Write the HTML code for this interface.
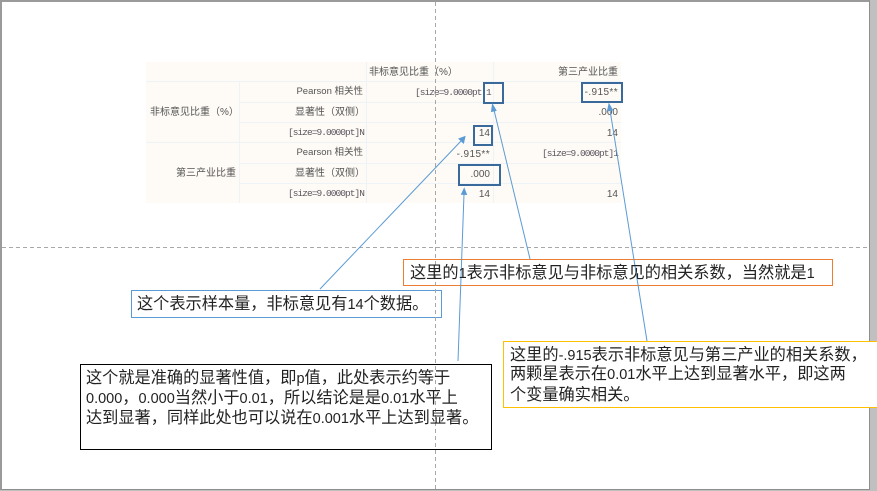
<!DOCTYPE html>
<html lang="zh"><head><meta charset="utf-8"><style>
html,body{margin:0;padding:0;background:#c0c0c0}
#p{position:relative;width:877px;height:491px;overflow:hidden;background:#c0c0c0}
#s{position:absolute;left:0;top:0;width:870px;height:490px;background:#fff;border-style:solid;border-color:#9a9a9a #8e8e8e #8e8e8e #9a9a9a;border-width:2px 1px 1px 2px;box-sizing:border-box}
.a{position:absolute;white-space:nowrap}
.t{font:10px/12px "Liberation Sans","Noto Sans CJK SC",sans-serif;color:#555;text-align:right}
.q{font:9.5px/12px "Liberation Sans","Noto Sans CJK SC",sans-serif;color:#555;text-align:right}
.m{font:9.5px/12px "Liberation Mono",monospace;letter-spacing:-.95px;color:#5c5560;text-align:right}
.b{position:absolute;box-sizing:border-box;background:#fff}
.l{position:absolute;white-space:nowrap;font:16.2px/20px "Liberation Sans","Noto Sans CJK SC",sans-serif;color:#222}
.l span{font-size:14.5px}
.h{position:absolute;box-sizing:border-box;border:2px solid #3a6a9c}
svg{position:absolute;left:0;top:0}
</style></head><body><div id="p"><div id="s"></div>
<svg width="877" height="491" style="z-index:1">
<rect x="146" y="62" width="475" height="141" fill="#fefbf6"/>
<g stroke="#eef3f8" stroke-width="1" fill="none">
<path d="M146 81.500H621M239 102.500H621M239 122.500H621M146 142.500H621M239 163.500H621M239 183.500H621M239.500 81V203M366.500 62V203M493.500 62V203"/>
</g></svg>
<div class="a t" style="z-index:2;left:369px;top:67px">非标意见比重（%）</div>
<div class="a t" style="z-index:2;right:259px;top:67px">第三产业比重</div>
<div class="a t" style="z-index:2;left:150px;top:107px">非标意见比重（%）</div>
<div class="a t" style="z-index:2;right:641px;top:168px">第三产业比重</div>
<div class="a q" style="z-index:2;right:514px;top:86px">Pearson 相关性</div>
<div class="a t" style="z-index:2;right:512px;top:107px">显著性（双侧）</div>
<div class="a m" style="z-index:2;right:513px;top:127px">[size=9.0000pt]N</div>
<div class="a q" style="z-index:2;right:514px;top:147px">Pearson 相关性</div>
<div class="a t" style="z-index:2;right:512px;top:168px">显著性（双侧）</div>
<div class="a m" style="z-index:2;right:513px;top:188px">[size=9.0000pt]N</div>
<div class="a m" style="z-index:2;left:415px;top:87px">[size=9.0000pt</div>
<div class="a m" style="z-index:2;left:486px;top:87px">1</div>
<div class="a t" style="z-index:2;right:259px;top:87px;letter-spacing:.4px">-.915**</div>
<div class="a t" style="z-index:2;right:259px;top:107px">.000</div>
<div class="a t" style="z-index:2;right:387px;top:128px">14</div>
<div class="a t" style="z-index:2;right:259px;top:128px">14</div>
<div class="a t" style="z-index:2;right:387px;top:149px;letter-spacing:.4px">-.915**</div>
<div class="a m" style="z-index:2;right:259px;top:148px">[size=9.0000pt]1</div>
<div class="a t" style="z-index:2;right:387px;top:169px">.000</div>
<div class="a t" style="z-index:2;right:387px;top:189px">14</div>
<div class="a t" style="z-index:2;right:259px;top:189px">14</div>
<div class="h" style="z-index:3;left:483px;top:82px;width:21px;height:22px"></div>
<div class="h" style="z-index:3;left:581px;top:82px;width:42px;height:21px"></div>
<div class="h" style="z-index:3;left:473px;top:125px;width:20px;height:21px"></div>
<div class="h" style="z-index:3;left:458px;top:164px;width:43px;height:22px"></div>
<div class="b" style="z-index:3;left:131px;top:290px;width:311px;height:28px;border:1px solid #5b9bd5"></div>
<div class="b" style="z-index:3;left:403px;top:259px;width:430px;height:27px;border:1px solid #ed7d31"></div>
<div class="b" style="z-index:3;left:503px;top:341px;width:374px;height:67px;border:1px solid #ffc000;border-right:0"></div>
<div class="b" style="z-index:3;left:80px;top:364px;width:412px;height:86px;border:1px solid #000"></div>
<svg width="877" height="491" style="z-index:4">
<g stroke="#a8a8a8" stroke-width="1" stroke-dasharray="4 3" fill="none"><path d="M435.500 2V489M2 247.500H869"/></g>
<g stroke="#5b9bd5" stroke-width="1" fill="#5b9bd5">
<path d="M320 289L461 141" fill="none"/><path d="M465 136.500L463.500 143L459 138.800Z"/>
<path d="M530 259L494 110" fill="none"/><path d="M492.500 104.500L496 110.500L491.500 111.500Z"/>
<path d="M458 361L464 194" fill="none"/><path d="M464.200 188.500L466.500 194.500L461.500 194.300Z"/>
<path d="M647 341L610 110" fill="none"/><path d="M609 104L612.500 110L607.500 110.800Z"/>
</g></svg>
<div class="l" style="z-index:5;left:137px;top:294px">这个表示样本量，非标意见有<span>14</span>个数据。</div>
<div class="l" style="z-index:5;left:410px;top:263px">这里的<span>1</span>表示非标意见与非标意见的相关系数，当然就是<span>1</span></div>
<div class="l" style="z-index:5;left:510px;top:345px">这里的<span>-.915</span>表示非标意见与第三产业的相关系数，</div>
<div class="l" style="z-index:5;left:510px;top:364px">两颗星表示在<span>0.01</span>水平上达到显著水平，即这两</div>
<div class="l" style="z-index:5;left:510px;top:385px">个变量确实相关。</div>
<div class="l" style="z-index:5;left:86px;top:368px">这个就是准确的显著性值，即<span>p</span>值，此处表示约等于</div>
<div class="l" style="z-index:5;left:86px;top:388px"><span>0.000</span>，<span>0.000</span>当然小于<span>0.01</span>，所以结论是是<span>0.01</span>水平上</div>
<div class="l" style="z-index:5;left:86px;top:408px">达到显著，同样此处也可以说在<span>0.001</span>水平上达到显著。</div>
</div></body></html>
